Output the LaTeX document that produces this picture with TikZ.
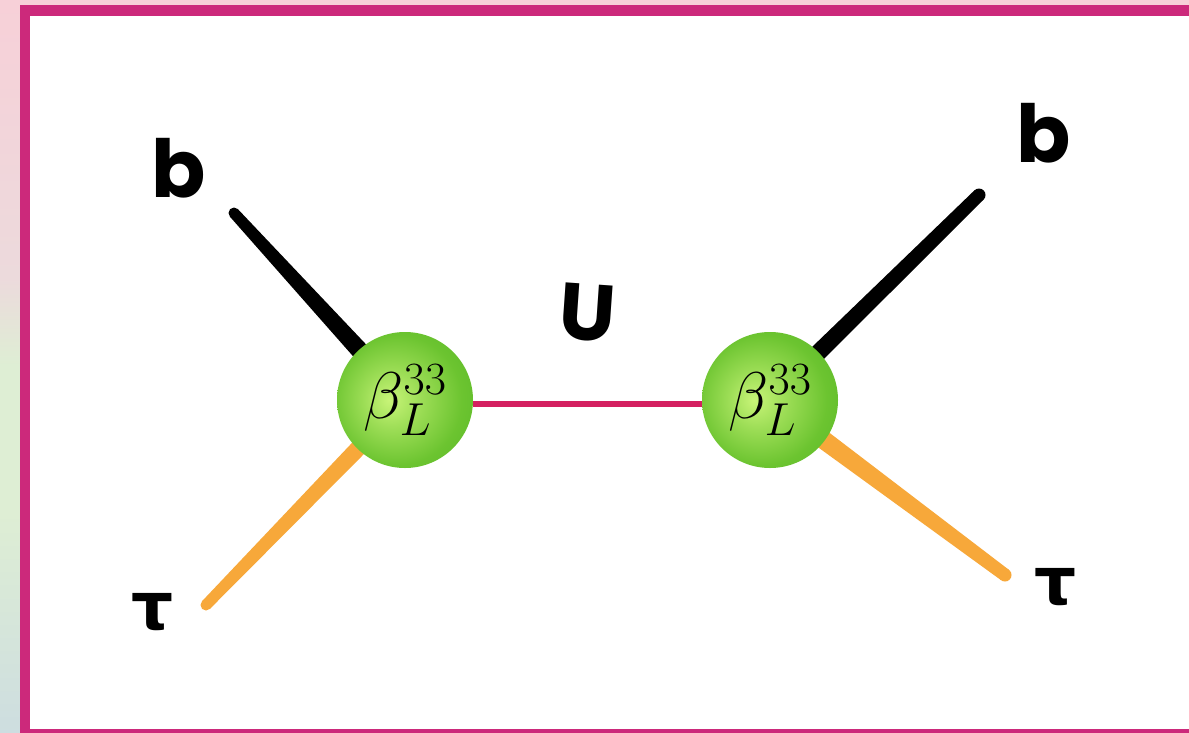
\documentclass[tikz,border=0pt]{standalone}
\usepackage{fix-cm}
\usepackage{fontspec}
\newfontfamily\handfont{Poppins}
\newfontfamily\handgreek{DejaVu Sans}
\usetikzlibrary{backgrounds,calc}

% palette
\definecolor{framepink}{RGB}{204,41,123}
\definecolor{vertexdark}{RGB}{68,170,32}
\definecolor{vertexmid}{RGB}{108,196,48}
\definecolor{vertexlight}{RGB}{200,244,120}
\definecolor{tauorange}{RGB}{247,168,58}
\definecolor{mediator}{RGB}{212,32,96}
\definecolor{bdpink}{RGB}{247,208,216}
\definecolor{bdrose}{RGB}{236,218,220}
\definecolor{bdgreen}{RGB}{222,238,212}
\definecolor{bdblue}{RGB}{202,218,226}

% soft page backdrop and the green vertex balls
\pgfdeclareverticalshading{backdrop}{100bp}{color(0bp)=(bdblue); color(22bp)=(bdblue);
  color(40bp)=(bdgreen); color(50bp)=(bdgreen); color(56bp)=(bdrose); color(75bp)=(bdpink); color(100bp)=(bdpink)}
\pgfdeclareradialshading{vertexball}{\pgfpoint{-6bp}{0bp}}{color(0bp)=(vertexlight);
  color(10bp)=(vertexlight!55!vertexmid); color(24bp)=(vertexmid); color(50bp)=(vertexdark)}

% a brush-like leg: wide where it leaves the vertex, narrowing to a rounded tip
% #1 colour, #2 vertex, #3 free end, #4 half width at the vertex, #5 half width at the tip
\newcommand\brushleg[5]{%
  \fill[#1] ($(#2)!#4!90:(#3)$) -- ($(#3)!#5!-90:(#2)$) -- ($(#3)!#5!90:(#2)$)
    -- ($(#2)!#4!-90:(#3)$) -- cycle;
  \fill[#1] (#3) circle (#5);}

\begin{document}
\begin{tikzpicture}[x=1pt,y=-1pt,
  vertex/.style={circle, minimum size=136pt, inner sep=0pt, shading=vertexball,
    font=\fontsize{66}{66}\selectfont},
  propagator/.style={draw=mediator, line width=6pt},
  frame/.style={draw=framepink, line width=10.5pt, fill=white},
  hand/.style={inner sep=0pt, font=\handfont\bfseries\fontsize{80}{80}\selectfont},
  handgr/.style={inner sep=0pt, font=\handgreek\bfseries\fontsize{66}{66}\selectfont}]
\useasboundingbox (0,0) rectangle (1189,732);

% the two coupling vertices
\node[vertex] (L) at (405,400) {$\beta_L^{33}$};
\node[vertex] (R) at (770,400) {$\beta_L^{33}$};

% free ends of the external legs
\coordinate (bLend) at (234,213);
\coordinate (tLend) at (206,605);
\coordinate (bRend) at (979,195);
\coordinate (tRend) at (1005,575);

% leg labels
\node[hand] (bLlab) at (179,168) {b};
\node[hand] (bRlab) at (1044,133) {b};
\node[handgr] (tLlab) at (153,612) {τ};
\node[handgr] (tRlab) at (1056,587) {τ};
\node[hand, rotate=-4] (Ulab) at (588,313) {U};

\begin{pgfonlayer}{background}
  \clip (0,0) rectangle (1189,732);
  \shade[shading=backdrop] (0,0) rectangle (1189,732);
  \path[frame] (25,10.5) rectangle (1215,734);
  % external legs
  \brushleg{black}{L}{bLend}{10pt}{5.5pt}
  \brushleg{tauorange}{L}{tLend}{9pt}{5.5pt}
  \brushleg{black}{R}{bRend}{9pt}{6.5pt}
  \brushleg{tauorange}{R}{tRend}{10pt}{6.5pt}
  % mediator exchanged between the vertices
  \draw[propagator] ([yshift=-4pt]L.east) -- ([yshift=-4pt]R.west);
\end{pgfonlayer}
\end{tikzpicture}
\end{document}
